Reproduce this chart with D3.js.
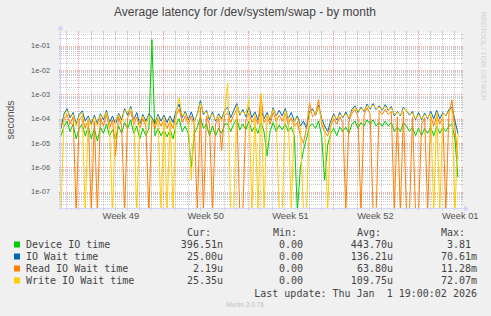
<!DOCTYPE html>
<html>
<head>
<meta charset="utf-8">
<script src="https://cdn.jsdelivr.net/npm/d3@7"></script>
<style>
html, body { margin: 0; padding: 0; background: #f0f0f0; }
svg { display: block; }
text { font-family: "Liberation Sans", Arial, sans-serif; }
.mono { font-family: "DejaVu Sans Mono", monospace; }
</style>
</head>
<body>
<div id="chart"></div>
<script>
// munin month view: 33 days, one sample every 6 hours
const startTime = Date.UTC(2025, 10, 29, 13, 30)
const endTime = Date.UTC(2026, 0, 1, 13, 30)
const stepHours = 6

const seriesNames = ["Device IO time", "IO Wait time", "Read IO Wait time", "Write IO Wait time"]
const seriesColors = ["#00cc00", "#0066b3", "#ff8000", "#ffcc00"]

const devIO = [
    2e-5, 5e-5, 8e-5, 3e-5, 6e-5, 1.5e-5, 4e-5, 6e-5, 2e-5, 4.5e-5, 1.5e-5, 4e-5,
    1.2e-5, 4.5e-5, 2.5e-5, 6e-5, 2e-5, 3.5e-5, 1.5e-5, 5e-5, 2.5e-5, 7e-5, 4e-5, 9e-5,
    2.5e-5, 5e-5, 1.5e-5, 4e-5, 2e-5, 4e-5, 0.18, 2e-5, 4e-5, 2e-5, 3.5e-5, 1.8e-5,
    3.5e-5, 1.5e-5, 6e-5, 1e-4, 3e-5, 5e-5, 2.5e-5, 1e-6, 2.5e-5, 4.5e-5, 1.2e-4, 4e-5,
    6e-5, 2e-5, 5e-5, 2e-5, 4e-5, 2.5e-5, 6e-5, 6e-5, 3e-5, 6e-5, 1e-4, 3.5e-5,
    6e-5, 3.5e-5, 8e-5, 3e-5, 5e-5, 2.5e-5, 7e-5, 3e-5, 3e-6, 3e-5, 7e-5, 3e-5,
    5.5e-5, 3.5e-5, 6e-5, 3e-5, 4.5e-5, 2e-5, 0, 1e-6, 5e-6, 1.5e-5, 5e-5, 6e-5,
    4e-5, 8e-5, 2e-5, 3e-7, 8e-6, 2.5e-5, 4e-5, 2e-5, 4.5e-5, 3e-5, 4.5e-5, 2.5e-5,
    6e-5, 8e-5, 4e-5, 7e-5, 5e-5, 9e-5, 6e-5, 9e-5, 5e-5, 7e-5, 5e-5, 8e-5,
    5e-5, 7e-5, 3e-5, 4.5e-5, 3e-5, 7e-5, 5e-5, 3e-5, 4.5e-5, 2e-5, 4e-5, 2e-5,
    4e-5, 2.5e-5, 4.5e-5, 2e-5, 5e-5, 2.5e-5, 4.5e-5, 3e-5, 5e-5, 6e-5, 1.5e-5, 4e-7
]
const ioWait = [
    4e-5, 1.6e-4, 2.6e-4, 1.1e-4, 1.8e-4, 6e-5, 1.5e-4, 2.1e-4, 8e-5, 1.3e-4, 6e-5, 1.4e-4,
    6e-5, 1.6e-4, 9e-5, 2.2e-4, 7e-5, 1.3e-4, 6e-5, 1.7e-4, 9e-5, 2.6e-4, 1.4e-4, 3.2e-4,
    9e-5, 1.8e-4, 6e-5, 1.5e-4, 8e-5, 1.6e-4, 1.1e-4, 6e-5, 1.5e-4, 8e-5, 1.4e-4, 7e-5,
    1.3e-4, 7e-5, 2.2e-4, 4e-4, 1.1e-4, 2e-4, 9e-5, 1.9e-4, 8e-5, 1.6e-4, 5.5e-4, 1.5e-4,
    2.2e-4, 9e-5, 1.9e-4, 8e-5, 1.6e-4, 1e-4, 2.2e-4, 3e-4, 1.1e-4, 2.2e-4, 4.2e-4, 1.4e-4,
    2.4e-4, 1.2e-4, 3e-4, 1.1e-4, 1.9e-4, 9e-5, 2.4e-4, 1e-4, 1.8e-4, 9e-5, 2.8e-4, 1.3e-4,
    2.2e-4, 1.3e-4, 2.6e-4, 1e-4, 1.8e-4, 8e-5, 1.3e-4, 5e-5, 8e-5, 4e-5, 1.9e-4, 2.6e-4,
    1.4e-4, 3.5e-4, 1e-4, 5e-5, 3e-5, 8e-5, 1.6e-4, 9e-5, 1.8e-4, 1.1e-4, 1.9e-4, 1e-4,
    2.4e-4, 3.4e-4, 1.8e-4, 3e-4, 2e-4, 4e-4, 2.5e-4, 4.2e-4, 2.4e-4, 3.4e-4, 2.2e-4, 3.8e-4,
    2.2e-4, 3.2e-4, 1.3e-4, 2e-4, 1.3e-4, 3e-4, 2.2e-4, 1.4e-4, 2e-4, 9e-5, 1.8e-4, 9e-5,
    1.7e-4, 1e-4, 2e-4, 1e-4, 2.2e-4, 1e-4, 1.8e-4, 1.3e-4, 2.4e-4, 3e-4, 8e-5, 2.5e-5
]
const readWait = [
    5e-5, 9e-5, 1.5e-4, 6e-5, 1.2e-4, 0, 9e-5, 1.3e-4, 4e-5, 9e-5, 0, 8e-5,
    0, 1.1e-4, 5e-5, 1.5e-4, 4e-5, 9e-5, 3e-6, 1.2e-4, 5e-5, 0, 1.1e-4, 2e-4,
    6e-5, 1.2e-4, 4e-5, 1e-4, 5e-5, 0, 9e-5, 4e-5, 1e-4, 5e-5, 9e-5, 4e-5,
    8e-5, 4e-5, 1.4e-4, 2.5e-4, 7e-5, 1.3e-4, 6e-5, 1.3e-4, 5e-5, 0, 3e-4, 0,
    1.3e-4, 6e-5, 0, 6e-5, 1.1e-4, 5e-6, 1.4e-4, 1.7e-4, 7e-5, 1.4e-4, 2.5e-4, 0,
    0, 9e-5, 1.7e-4, 7e-5, 1.2e-4, 6e-5, 9e-4, 7e-5, 1.2e-4, 6e-5, 1.8e-4, 8e-5,
    1.4e-4, 8e-5, 1.6e-4, 6e-5, 1.1e-4, 5e-5, 7e-5, 2e-5, 1e-5, 4e-5, 4.5e-4, 1.2e-4,
    1.5e-4, 6e-4, 6e-5, 3e-5, 2e-5, 5e-5, 1e-4, 6e-5, 1.2e-4, 7e-5, 0, 8e-5,
    1.6e-4, 2.4e-4, 1.2e-4, 0, 1.4e-4, 2.8e-4, 1.6e-4, 0, 0, 2.2e-4, 1.5e-4, 2.4e-4,
    1.5e-4, 2e-4, 0, 1.2e-4, 0, 1.9e-4, 0, 0, 1.2e-4, 0, 0, 6e-5,
    1.1e-4, 0, 1.3e-4, 5e-5, 1.4e-4, 6e-5, 1.2e-4, 0, 1.6e-4, 6e-4, 4e-5, 2.2e-6
]
const writeWait = [
    0, 1.3e-4, 2.2e-4, 1.4e-4, 1.5e-4, 5e-5, 1.3e-4, 1.8e-4, 0, 1.1e-4, 5e-5, 1.2e-4,
    5e-5, 1.4e-4, 1.1e-4, 1.9e-4, 6e-5, 0, 8e-5, 1.5e-4, 7e-5, 2.3e-4, 1.7e-4, 2.8e-4,
    1.1e-4, 0, 8e-5, 1.3e-4, 6e-5, 1.4e-4, 9e-5, 5e-5, 1.3e-4, 0, 1.2e-4, 0,
    1.1e-4, 0, 1.9e-4, 7e-4, 1.3e-4, 1.7e-4, 8e-5, 3e-7, 9e-5, 1.4e-4, 4.5e-4, 1.8e-4,
    1.9e-4, 1.1e-4, 1.6e-4, 9e-5, 1.4e-4, 8e-5, 1.9e-4, 3e-3, 0, 0, 3.6e-4, 1.6e-4,
    2e-4, 1.4e-4, 6e-4, 0, 1.6e-4, 0, 1.1e-3, 0, 1.5e-4, 1e-4, 2.5e-4, 1.5e-4,
    0, 0, 2.2e-4, 1.2e-4, 0, 9e-5, 1.1e-4, 4e-5, 0, 0, 1.7e-4, 2.2e-4,
    1.6e-4, 3e-4, 8e-5, 4e-5, 0, 6e-5, 1.4e-4, 1e-4, 1.5e-4, 1.2e-4, 1.6e-4, 1.1e-4,
    2e-4, 3e-4, 2e-4, 2.6e-4, 2.2e-4, 3.5e-4, 2.7e-4, 3.7e-4, 2.6e-4, 3e-4, 2.4e-4, 3.3e-4,
    2.4e-4, 2.8e-4, 1.5e-4, 1.8e-4, 1.4e-4, 2.6e-4, 2.3e-4, 1.5e-4, 1.7e-4, 1e-4, 1.5e-4, 1e-4,
    1.5e-4, 1.1e-4, 1.7e-4, 0, 1.9e-4, 0, 1.6e-4, 1.4e-4, 2e-4, 2.6e-4, 0, 2.5e-5
]

const yTicks = [1e-1, 1e-2, 1e-3, 1e-4, 1e-5, 1e-6, 1e-7]
const curVals = ["396.51n", "25.00u", "2.19u", "25.35u"]
const minVals = ["0.00", "0.00", "0.00", "0.00"]
const avgVals = ["443.70u", "136.21u", "63.80u", "109.75u"]
const maxVals = ["3.81", "70.61m", "11.28m", "72.07m"]
const lastUpdate = "Last update: Thu Jan  1 19:00:02 2026"

const width = 491, height = 316
const plot = { left: 61, right: 461, top: 33, bottom: 208 }

const svg = d3.select("#chart").append("svg")
    .attr("width", width)
    .attr("height", height)
    .style("background", "#f0f0f0")

svg.append("rect")
    .attr("x", plot.left).attr("y", plot.top)
    .attr("width", plot.right - plot.left).attr("height", plot.bottom - plot.top)
    .attr("fill", "#ffffff")

var xScale = d3.scaleUtc()
    .domain([new Date(startTime), new Date(endTime)])
    .range([plot.left, plot.right])

var yScale = d3.scaleLog()
    .domain([2.15e-8, 0.333])
    .range([plot.bottom, plot.top])

const minorColor = "rgba(140,140,140,0.45)"
const majorColor = "rgba(230,60,60,0.45)"
const grid = svg.append("g").attr("shape-rendering", "crispEdges")

// horizontal grid: 2..9 minor, decades major
var decades = d3.range(-8, 0)
decades.forEach(function (p) {
    d3.range(1, 10).forEach(function (m) {
        var v = m * Math.pow(10, p)
        if (v < yScale.domain()[0] || v > yScale.domain()[1]) return
        var y = Math.round(yScale(v)) + 0.5
        var col = m === 1 ? majorColor : minorColor
        grid.append("line")
            .attr("x1", plot.left).attr("x2", plot.right)
            .attr("y1", y).attr("y2", y)
            .attr("stroke", col).attr("stroke-dasharray", "1,1")
        grid.append("line").attr("x1", plot.left - 2).attr("x2", plot.left).attr("y1", y).attr("y2", y).attr("stroke", col)
        grid.append("line").attr("x1", plot.right).attr("x2", plot.right + 2).attr("y1", y).attr("y2", y).attr("stroke", col)
    })
})

// vertical grid: days minor, mondays major
var days = d3.utcDay.range(new Date(startTime), new Date(endTime))
days.forEach(function (d) {
    var x = Math.round(xScale(d)) + 0.5
    var col = d.getUTCDay() === 1 ? majorColor : minorColor
    grid.append("line")
        .attr("x1", x).attr("x2", x)
        .attr("y1", plot.top).attr("y2", plot.bottom)
        .attr("stroke", col).attr("stroke-dasharray", "1,1")
    grid.append("line").attr("x1", x).attr("x2", x).attr("y1", plot.top - 2).attr("y2", plot.top).attr("stroke", col)
    grid.append("line").attr("x1", x).attr("x2", x).attr("y1", plot.bottom).attr("y2", plot.bottom + 2).attr("stroke", col)
})

// data lines
svg.append("clipPath").attr("id", "plotClip")
    .append("rect")
    .attr("x", plot.left).attr("y", plot.top)
    .attr("width", plot.right - plot.left).attr("height", plot.bottom - plot.top + 1)

var line = d3.line()
    .x((d, i) => xScale(new Date(startTime + i * stepHours * 3600000)))
    .y(d => d > 0 ? yScale(d) : plot.bottom + 4)

var allSeries = [devIO, ioWait, readWait, writeWait]
allSeries.forEach(function (values, k) {
    svg.append("path")
        .datum(values)
        .attr("clip-path", "url(#plotClip)")
        .attr("fill", "none")
        .attr("stroke", seriesColors[k])
        .attr("stroke-width", 1)
        .attr("stroke-linejoin", "round")
        .attr("d", line)
})

// axes with arrows
const axisColor = "#cfd6f8"
svg.append("line").attr("x1", plot.left - 0.5).attr("x2", plot.left - 0.5)
    .attr("y1", plot.bottom + 2).attr("y2", plot.top - 4).attr("stroke", axisColor)
svg.append("line").attr("x1", plot.left - 2).attr("x2", plot.right + 4)
    .attr("y1", plot.bottom + 0.5).attr("y2", plot.bottom + 0.5).attr("stroke", axisColor)
svg.append("path")
    .attr("d", `M${plot.left - 3.5},${plot.top - 3} L${plot.left - 0.5},${plot.top - 8} L${plot.left + 2.5},${plot.top - 3} Z`)
    .attr("fill", axisColor)
svg.append("path")
    .attr("d", `M${plot.right + 3},${plot.bottom - 2.5} L${plot.right + 8},${plot.bottom + 0.5} L${plot.right + 3},${plot.bottom + 3.5} Z`)
    .attr("fill", axisColor)

// y labels
svg.append("g").selectAll("text")
    .data(yTicks)
    .join("text")
    .attr("x", 50)
    .attr("y", d => yScale(d) + 2.5)
    .attr("text-anchor", "end")
    .attr("font-size", 7.4)
    .attr("fill", "#555")
    .text(d => "1e-0" + Math.round(-Math.log10(d)))

// x labels at mid-week
var mondays = d3.utcMonday.range(new Date(startTime), new Date(endTime))
svg.append("g").selectAll("text")
    .data(mondays)
    .join("text")
    .attr("x", d => xScale(d3.utcHour.offset(d, 84)))
    .attr("y", 219)
    .attr("text-anchor", "middle")
    .attr("font-size", 9.3)
    .attr("fill", "#555")
    .text(d => "Week " + d3.utcFormat("%V")(d))

// title and axis name
svg.append("text")
    .attr("x", 245).attr("y", 16)
    .attr("text-anchor", "middle")
    .attr("font-size", 12)
    .attr("fill", "#444")
    .text("Average latency for /dev/system/swap - by month")

svg.append("text")
    .attr("transform", "translate(14,120) rotate(-90)")
    .attr("text-anchor", "middle")
    .attr("font-size", 10.5)
    .attr("fill", "#555")
    .text("seconds")

svg.append("text")
    .attr("transform", "translate(481,12) rotate(90)")
    .attr("font-size", 7)
    .attr("fill", "#d0d0d0")
    .text("RRDTOOL / TOBI OETIKER")

// legend
const legend = svg.append("g").attr("class", "mono").attr("font-size", 10).attr("fill", "#444")
const charW = 6.02
const colEnds = [223, 309, 393, 477]
const headers = ["Cur:", "Min:", "Avg:", "Max:"]
headers.forEach(function (h, c) {
    legend.append("text").attr("class", "mono")
        .attr("x", colEnds[c] - 12).attr("y", 236.3)
        .attr("text-anchor", "end").text(h)
})
const statCols = [curVals, minVals, avgVals, maxVals]
seriesNames.forEach(function (name, r) {
    var y = 248.3 + r * 12
    legend.append("rect")
        .attr("x", 14).attr("y", y - 6.8)
        .attr("width", 6).attr("height", 6)
        .attr("fill", seriesColors[r])
    legend.append("text").attr("class", "mono")
        .attr("x", 26).attr("y", y).text(name)
    statCols.forEach(function (col, c) {
        var s = col[r]
        var hasUnit = /[a-z]$/i.test(s)
        legend.append("text").attr("class", "mono")
            .attr("x", hasUnit ? colEnds[c] : colEnds[c] - charW)
            .attr("y", y)
            .attr("text-anchor", "end")
            .text(s)
    })
})
legend.append("text").attr("class", "mono")
    .attr("x", 477).attr("y", 296.5)
    .attr("text-anchor", "end")
    .attr("xml:space", "preserve")
    .style("white-space", "pre")
    .text(lastUpdate)

svg.append("text")
    .attr("x", 245).attr("y", 306.5)
    .attr("text-anchor", "middle")
    .attr("font-size", 6.5)
    .attr("fill", "#c0c0c0")
    .text("Munin 2.0.76")
</script>
</body>
</html>
